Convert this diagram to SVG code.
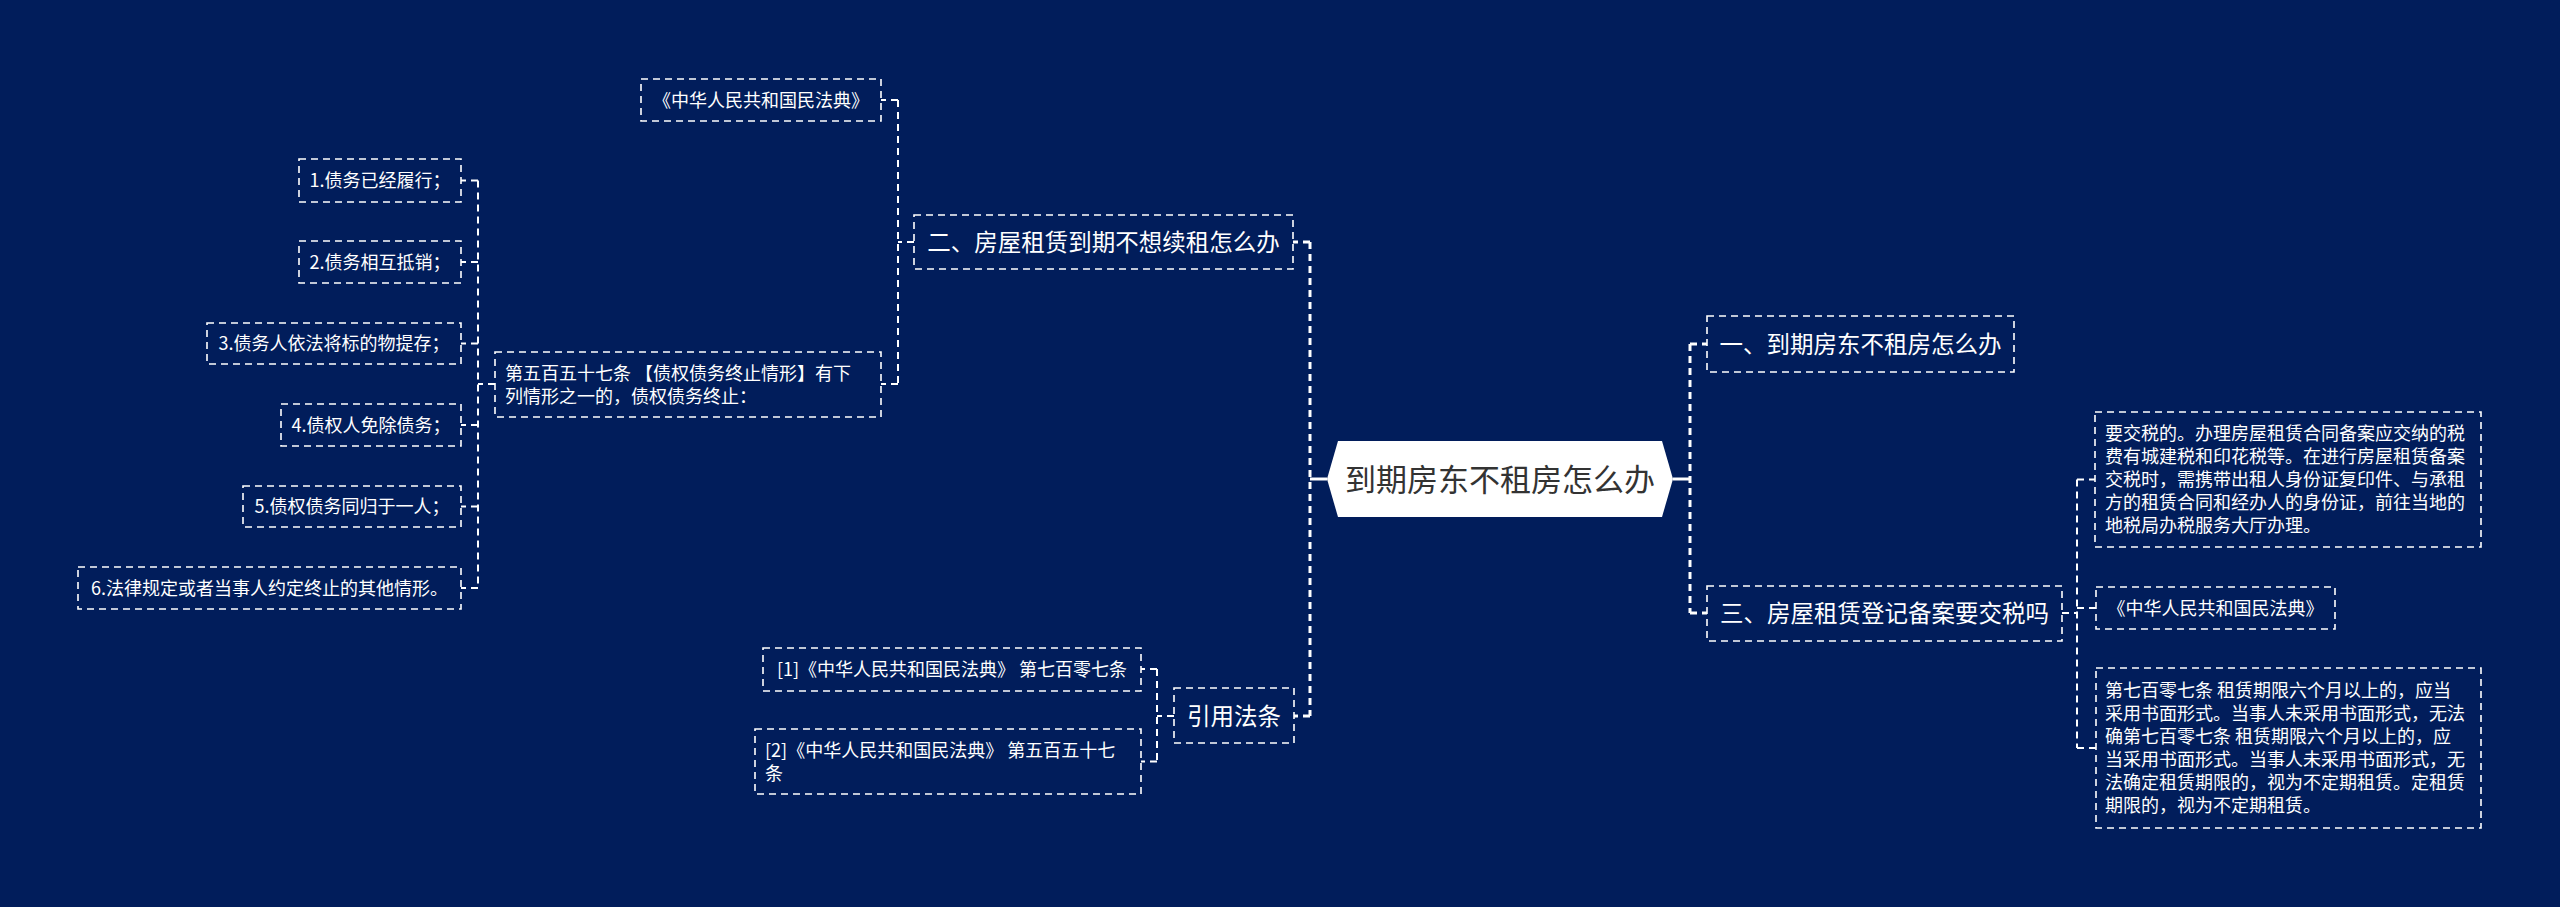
<svg xmlns="http://www.w3.org/2000/svg" width="2560" height="907" viewBox="0 0 2560 907">
<style>
.bg{fill:#011d5b}
.box{fill:none;stroke:#ffffff;stroke-width:1.6;stroke-dasharray:7 5}
.t{fill:#ffffff;font-family:"Noto Sans CJK SC","Microsoft YaHei",sans-serif;font-size:18px}
.t1{fill:#ffffff;font-family:"Noto Sans CJK SC","Microsoft YaHei",sans-serif;font-size:23.5px}
.tr{fill:#333333;font-family:"Noto Sans CJK SC","Microsoft YaHei",sans-serif;font-size:31px}
.c{text-anchor:middle}
.ln{fill:none;stroke:#ffffff;stroke-width:2;stroke-dasharray:7 5}
.ln1{fill:none;stroke:#ffffff;stroke-width:3;stroke-dasharray:7 5}
.stub{fill:none;stroke:#ffffff;stroke-width:3}
</style>
<rect class="bg" x="0" y="0" width="2560" height="907"/>
<g id="connectors">
<path class="stub" d="M1310 479 H1327"/>
<path class="stub" d="M1673 479 H1690"/>
<path class="ln1" d="M1310 242 V716"/>
<path class="ln1" d="M1310 242 H1293 M1310 716 H1294"/>
<path class="ln1" d="M1690 344 V613"/>
<path class="ln1" d="M1690 344 H1707 M1690 613 H1707"/>
<path class="ln" d="M898 100 V384"/>
<path class="ln" d="M914 242 H898 M898 100 H881 M898 384 H881"/>
<path class="ln" d="M478 180.5 V588"/>
<path class="ln" d="M495 384 H478 M478 180.5 H461 M478 262 H461 M478 343.5 H461 M478 425 H461 M478 506.5 H461 M478 588 H461"/>
<path class="ln" d="M1157 669 V761.5"/>
<path class="ln" d="M1174 716 H1157 M1157 669 H1141 M1157 761.5 H1141"/>
<path class="ln" d="M2077 479.5 V748"/>
<path class="ln" d="M2062 613 H2077 M2077 479.5 H2095 M2077 608 H2096 M2077 748 H2096"/>
</g>
<g id="root">
<polygon points="1327,479 1338,441 1662,441 1673,479 1662,517 1338,517" fill="#ffffff"/>
<text class="tr c" x="1500" y="491">到期房东不租房怎么办</text>
</g>
<g id="n-er">
<rect class="box" x="914" y="215" width="379" height="54"/>
<text class="t1 c" x="1103.5" y="251">二、房屋租赁到期不想续租怎么办</text>
</g>
<g id="n-minfadian-left">
<rect class="box" x="641" y="79" width="240" height="42"/>
<text class="t c" x="761" y="106.5">《中华人民共和国民法典》</text>
</g>
<g id="n-557">
<rect class="box" x="495" y="352" width="386" height="65"/>
<text class="t" x="505" y="379.5">第五百五十七条 【债权债务终止情形】有下</text>
<text class="t" x="505" y="402.5">列情形之一的，债权债务终止：</text>
</g>
<g id="n-1">
<rect class="box" x="299" y="159" width="162" height="43"/>
<text class="t c" x="380" y="187">1.债务已经履行；</text>
</g>
<g id="n-2">
<rect class="box" x="299" y="241" width="162" height="42"/>
<text class="t c" x="380" y="268.5">2.债务相互抵销；</text>
</g>
<g id="n-3">
<rect class="box" x="207" y="323" width="254" height="41"/>
<text class="t c" x="334" y="350">3.债务人依法将标的物提存；</text>
</g>
<g id="n-4">
<rect class="box" x="281" y="404" width="180" height="42"/>
<text class="t c" x="371" y="431.5">4.债权人免除债务；</text>
</g>
<g id="n-5">
<rect class="box" x="243" y="486" width="218" height="41"/>
<text class="t c" x="352" y="513">5.债权债务同归于一人；</text>
</g>
<g id="n-6">
<rect class="box" x="78" y="567" width="383" height="42"/>
<text class="t c" x="269.5" y="594.5">6.法律规定或者当事人约定终止的其他情形。</text>
</g>
<g id="n-yinyong">
<rect class="box" x="1174" y="688" width="120" height="55"/>
<text class="t1 c" x="1234" y="725">引用法条</text>
</g>
<g id="n-ref1">
<rect class="box" x="763" y="648" width="378" height="43"/>
<text class="t c" x="952" y="675.5">[1]《中华人民共和国民法典》 第七百零七条</text>
</g>
<g id="n-ref2">
<rect class="box" x="755" y="729" width="386" height="65"/>
<text class="t" x="765" y="756.5">[2]《中华人民共和国民法典》 第五百五十七</text>
<text class="t" x="765" y="779.5">条</text>
</g>
<g id="n-yi">
<rect class="box" x="1707" y="316" width="307" height="56"/>
<text class="t1 c" x="1860.5" y="353">一、到期房东不租房怎么办</text>
</g>
<g id="n-san">
<rect class="box" x="1707" y="586" width="355" height="55"/>
<text class="t1 c" x="1884.5" y="622">三、房屋租赁登记备案要交税吗</text>
</g>
<g id="n-tax">
<rect class="box" x="2095" y="412" width="386" height="135"/>
<text class="t" x="2105" y="440">要交税的。办理房屋租赁合同备案应交纳的税</text>
<text class="t" x="2105" y="463">费有城建税和印花税等。在进行房屋租赁备案</text>
<text class="t" x="2105" y="486">交税时，需携带出租人身份证复印件、与承租</text>
<text class="t" x="2105" y="509">方的租赁合同和经办人的身份证，前往当地的</text>
<text class="t" x="2105" y="532">地税局办税服务大厅办理。</text>
</g>
<g id="n-minfadian-right">
<rect class="box" x="2096" y="587" width="239" height="42"/>
<text class="t c" x="2215.5" y="614.5">《中华人民共和国民法典》</text>
</g>
<g id="n-707">
<rect class="box" x="2096" y="668" width="385" height="160"/>
<text class="t" x="2105" y="697">第七百零七条 租赁期限六个月以上的，应当</text>
<text class="t" x="2105" y="720">采用书面形式。当事人未采用书面形式，无法</text>
<text class="t" x="2105" y="743">确第七百零七条 租赁期限六个月以上的，应</text>
<text class="t" x="2105" y="766">当采用书面形式。当事人未采用书面形式，无</text>
<text class="t" x="2105" y="789">法确定租赁期限的，视为不定期租赁。定租赁</text>
<text class="t" x="2105" y="812">期限的，视为不定期租赁。</text>
</g>
</svg>
